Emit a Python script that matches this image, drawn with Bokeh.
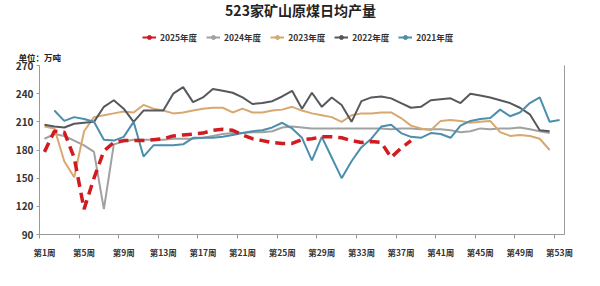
from bokeh.plotting import figure
from bokeh.layouts import column
from bokeh.models import Range1d, FixedTicker, LinearAxis, Title, Legend, LegendItem, Label
from bokeh.embed import file_html
from bokeh.resources import INLINE

NaN = float("nan")

weeks = [f"第{i}周" for i in range(1, 54)]
week_idx = list(range(1, 54))

series_names = ["2025年度", "2024年度", "2023年度", "2022年度", "2021年度"]

y2025 = [178, 200, 199, 172, 117, 150, 179, 188, 190, 190, 190, 191, 192, 195, 196, 197, 198, 201, 202, 201,
         196, 192, 190, 188, 187, 187, 191, 192, 194, 194, 193, 190, 188, 189, 188, 172, 182, 190]
y2024 = [192, 197, 195, 190, 185, 178, 117, 186, 189, 191, 191, 191, 191, 192, 192, 192, 193, 195, 197, 198,
         198, 199, 199, 200, 204, 205, 204, 203, 203, 203, 203, 203, 203, 203, 203, 202, 203, 203, 202, 202,
         202, 201, 199, 200, 203, 202, 203, 203, 204, 202, 200, 198]
y2023 = [205, 203, 168, 151, 200, 215, 217, 219, 221, 220, 228, 224, 222, 219, 220, 222, 224, 225, 225, 220,
         224, 220, 220, 222, 223, 226, 222, 219, 217, 215, 210, 217, 219, 219, 220, 220, 214, 206, 203, 201,
         211, 212, 211, 209, 210, 211, 199, 195, 196, 195, 192, 180]
y2022 = [207, 205, 204, 208, 209, 210, 226, 233, 224, 210, 222, 222, 222, 240, 247, 231, 236, 245, 243, 241,
         236, 229, 230, 232, 237, 243, 224, 241, 226, 236, 228, 210, 232, 236, 237, 235, 230, 225, 226, 233,
         234, 235, 230, 240, 238, 236, 233, 230, 225, 218, 201, 200]
y2021 = [NaN, 222, 211, 215, 213, 210, 191, 190, 194, 210, 173, 185, 185, 185, 186, 193, 193, 193, 194, 196,
         198, 200, 201, 204, 209, 203, 193, 169, 194, 172, 150, 168, 183, 192, 205, 207, 198, 194, 193, 198,
         197, 193, 206, 211, 213, 214, 223, 216, 220, 230, 236, 210, 212]

y_ticks = [90, 120, 150, 180, 210, 240, 270]

colors = ["#d21b20", "#a0a2a0", "#d8a870", "#55595d", "#4b8fad"]
FONT = "Noto Sans CJK SC"

HEAD_H = 44
LEFT = 39

# ---------- header: title + legend ----------
head = figure(width=600, height=HEAD_H, x_range=Range1d(0, 1), y_range=Range1d(0, 1),
              output_backend="svg", toolbar_location=None, title_location=None,
              x_axis_location=None, y_axis_location=None, min_border=0)
head.xgrid.visible = False
head.ygrid.visible = False
head.outline_line_color = None
head.border_fill_color = "white"

head.add_layout(Label(x=300 - LEFT, y=HEAD_H - 9, x_units="screen", y_units="screen",
                      text="523家矿山原煤日均产量",
                      text_align="center", text_baseline="middle", text_font=FONT,
                      text_font_size="14px", text_font_style="bold", text_color="#222222"))

items = []
for i, name in enumerate(series_names):
    rl = head.line(x=[NaN], y=[NaN], line_color=colors[i], line_width=2)
    rs = head.scatter(x=[NaN], y=[NaN], size=7, fill_color=colors[i], line_color=colors[i])
    items.append(LegendItem(label=name, renderers=[rl, rs]))

legend = Legend(items=items, orientation="horizontal", location=(142 - LEFT, HEAD_H - 43),
                label_text_font=FONT, label_text_font_size="8.5px", label_text_color="#333333",
                label_text_font_style="bold",
                glyph_width=14, glyph_height=10, label_height=10, label_standoff=4, spacing=9,
                padding=0, margin=0, border_line_color=None, background_fill_alpha=0)
head.add_layout(legend, "center")

# ---------- main chart ----------
p = figure(width=600, height=286 - HEAD_H, x_range=Range1d(0.5, 53.5), y_range=Range1d(90, 270),
           output_backend="svg", toolbar_location=None, title_location=None,
           min_border_left=LEFT, min_border_right=36, min_border_top=65 - HEAD_H, min_border_bottom=52)
p.xgrid.visible = False
p.ygrid.visible = False
p.outline_line_color = None
p.background_fill_color = "white"
p.border_fill_color = "white"

xa = p.xaxis[0]
label_ticks = list(range(1, 54, 4))
xa.ticker = FixedTicker(ticks=label_ticks, minor_ticks=[0.5 + 4 * k for k in range(14)])
xa.major_label_overrides = {i: weeks[i - 1] for i in label_ticks}
xa.major_tick_line_color = None
xa.minor_tick_out = 4
xa.minor_tick_in = 0
xa.minor_tick_line_color = "#999999"
xa.axis_line_color = "#999999"
xa.major_label_text_font = FONT
xa.major_label_text_font_size = "8.5px"
xa.major_label_text_font_style = "bold"
xa.major_label_text_color = "#333333"
xa.major_label_standoff = 5

ya = p.yaxis[0]
ya.ticker = FixedTicker(ticks=y_ticks)
ya.minor_tick_line_color = None
ya.major_tick_out = 3
ya.major_tick_in = 0
ya.major_tick_line_color = "#999999"
ya.axis_line_color = "#999999"
ya.major_label_text_font = FONT
ya.major_label_text_font_size = "10px"
ya.major_label_text_font_style = "bold"
ya.major_label_text_color = "#333333"
ya.major_label_standoff = 3

ra = LinearAxis(major_tick_line_color=None, minor_tick_line_color=None,
                major_label_text_font_size="0px", axis_line_color="#999999")
ra.ticker = FixedTicker(ticks=[])
p.add_layout(ra, "right")

unit = Title(text="单位：万吨", align="left", offset=-21, standoff=5,
             text_font=FONT, text_font_size="8.5px", text_font_style="bold", text_color="#222222")
p.add_layout(unit, "above")

data = [y2025, y2024, y2023, y2022, y2021]
order = [1, 2, 3, 4, 0]
for i in order:
    ys = data[i]
    xs = week_idx[:len(ys)]
    if i == 0:
        p.line(xs, ys, line_color=colors[i], line_width=3.5, line_dash="10 6")
    else:
        p.line(xs, ys, line_color=colors[i], line_width=2)

layout = column(head, p, spacing=0)
open("out.html", "w").write(file_html(layout, INLINE))
